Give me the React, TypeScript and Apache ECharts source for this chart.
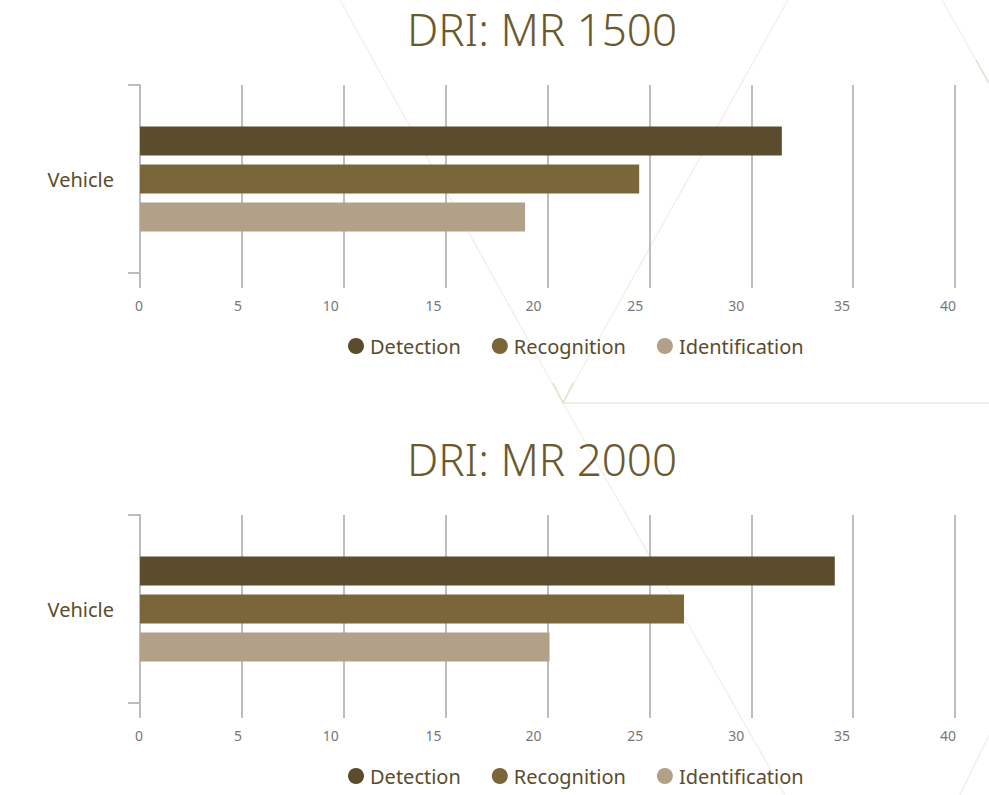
import React, { useEffect, useRef } from "react";
import * as echarts from "echarts";

const categories = ["Vehicle"];
const seriesNames = ["Detection", "Recognition", "Identification"];
const mr1500Values = [31.5, 24.5, 18.9];
const mr2000Values = [34.1, 26.7, 20.1];
const chartTitles = ["DRI: MR 1500", "DRI: MR 2000"];
const axisMin = 0;
const axisMax = 40;
const axisInterval = 5;

const barColors = ["#5a4c2c", "#7a6638", "#b2a188"];
const gridColor = "#bcbcc1";
const titleColor = "#6b5a30";
const textColor = "#5a4c2c";
const tickTextColor = "#777777";
const decoColor = "#f3f0e9";
const FONT = "'Noto Sans', 'Open Sans', sans-serif";

// small leftward nudges of tick labels (style only)
const labelNudge: Record<number, number> = { 0: 1, 5: 4, 10: 13, 15: 12, 20: 14, 25: 14, 30: 15, 35: 11, 40: 7 };

const richLabels: Record<string, any> = {};
Object.keys(labelNudge).forEach((k) => {
  richLabels["n" + k] = {
    padding: [0, 2 * labelNudge[Number(k)], 0, 0],
    color: tickTextColor,
    fontSize: 14,
    fontFamily: FONT,
  };
});

const panelOffset = 430;

export default function App() {
  const ref = useRef<HTMLDivElement>(null);
  useEffect(() => {
    if (!ref.current) return;
    const chart = echarts.init(ref.current, null, { renderer: "svg" });
    const datasets = [mr1500Values, mr2000Values];

    const grids = datasets.map((_, i) => ({
      left: 140,
      right: 34,
      top: 85 + i * panelOffset,
      height: 188,
      containLabel: false,
    }));

    const xAxes = datasets.map((_, i) => ({
      type: "value",
      gridIndex: i,
      min: axisMin,
      max: axisMax,
      interval: axisInterval,
      axisLine: { show: false },
      axisTick: { show: true, length: 15, inside: false, lineStyle: { color: gridColor, width: 2 } },
      splitLine: { show: true, lineStyle: { color: gridColor, width: 2 } },
      axisLabel: {
        margin: 25,
        formatter: (v: number) => `{n${v}|${v}}`,
        rich: richLabels,
        color: tickTextColor,
        fontSize: 14,
        fontFamily: FONT,
      },
    }));

    const yAxes = datasets.map((_, i) => ({
      type: "category",
      gridIndex: i,
      data: categories,
      inverse: true,
      axisLine: { show: true, lineStyle: { color: gridColor, width: 2 } },
      axisTick: { show: true, length: 12, lineStyle: { color: gridColor, width: 2 } },
      axisLabel: { margin: 26, color: textColor, fontSize: 20, fontFamily: FONT },
      splitLine: { show: false },
    }));

    const series: any[] = [];
    datasets.forEach((vals, i) => {
      seriesNames.forEach((name, j) => {
        series.push({
          type: "bar",
          name,
          xAxisIndex: i,
          yAxisIndex: i,
          data: [vals[j]],
          barWidth: 29,
          barGap: "31%",
          itemStyle: { color: barColors[j] },
        });
      });
    });

    const legends = datasets.map((_, i) => ({
      data: seriesNames,
      left: 343,
      top: 331 + i * panelOffset,
      icon: "circle",
      itemWidth: 16,
      itemHeight: 16,
      itemGap: 31,
      selectedMode: false,
      textStyle: { color: textColor, fontSize: 20, fontFamily: FONT, padding: [0, 0, 0, 1] },
    }));

    const deco = (x1: number, y1: number, x2: number, y2: number, c = decoColor) => ({
      type: "line",
      z: -10,
      silent: true,
      shape: { x1, y1, x2, y2 },
      style: { stroke: c, lineWidth: 1.5 },
    });

    const graphics: any[] = [
      deco(340, 0, 563, 403),
      deco(563, 403, 785, 795),
      deco(788, 0, 563, 403),
      deco(563, 403, 989, 403, "#ece7dc"),
      deco(942, 0, 989, 83),
      deco(976, 60, 989, 83, "#e6dfcf"),
      deco(553, 383, 563, 403, "#e6dfcf"),
      deco(573, 383, 563, 403, "#e6dfcf"),
      deco(989, 735, 960, 795),
      ...chartTitles.map((t, i) => ({
        type: "text",
        x: 542,
        y: 29 + i * panelOffset,
        style: {
          text: t,
          textAlign: "center",
          textVerticalAlign: "middle",
          fontSize: 44,
          fontWeight: 300,
          fontFamily: FONT,
          fill: titleColor,
        },
      })),
    ];

    chart.setOption({
      animation: false,
      backgroundColor: "#ffffff",
      grid: grids,
      xAxis: xAxes,
      yAxis: yAxes,
      legend: legends,
      series,
      graphic: graphics,
    });
    return () => chart.dispose();
  }, []);
  return (
    <div
      ref={ref}
      style={{ position: "absolute", left: 0, top: 0, width: 989, height: 795 }}
    />
  );
}
